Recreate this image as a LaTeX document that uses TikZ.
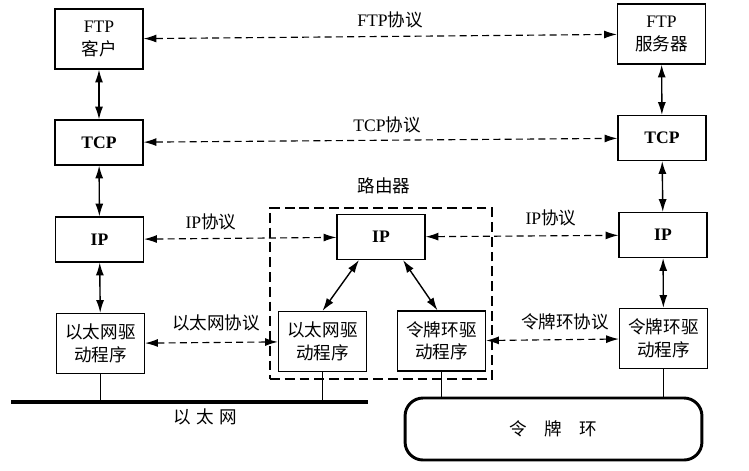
\documentclass[tikz,border=0pt]{standalone}
\usepackage{fontspec}
\setmainfont{Liberation Serif}
\newfontfamily\cjk{Noto Sans CJK SC}
\usetikzlibrary{arrows.meta}

\begin{document}
\begin{tikzpicture}[x=0.025cm, y=-0.025cm,
  >={Latex[length=0.32cm,width=0.2cm]},
  every node/.style={align=center, font=\fontsize{12.5}{16}\selectfont},
  layerbox/.style={draw, line width=0.9pt, minimum width=2.2cm, minimum height=1.5cm, inner sep=1pt},
  thinbox/.style={layerbox, minimum height=1.12cm, font=\fontsize{12.5}{16}\selectfont\bfseries},
  peer/.style={<->, line width=0.8pt, dash pattern=on 5pt off 3pt},
  stack/.style={<->, line width=1pt}]
  \useasboundingbox (0,0) rectangle (749,470);

  % Left host
  \node[layerbox] (ftpc) at (99,39) {FTP\\{\cjk 客户}};
  \node[thinbox] (tcpl) at (99,142.5) {TCP};
  \node[thinbox] (ipl) at (99.5,239.5) {IP};
  \node[layerbox] (ethl) at (100.5,343.5) {\cjk 以太网驱\\\cjk 动程序};

  % Right host
  \node[layerbox] (ftps) at (661.5,34) {FTP\\{\cjk 服务器}};
  \node[thinbox] (tcpr) at (662,138) {TCP};
  \node[thinbox] (ipr) at (663,235) {IP};
  \node[layerbox] (trr) at (663.5,338.5) {\cjk 令牌环驱\\\cjk 动程序};

  % Router
  \node[draw, line width=0.8pt, dash pattern=on 7pt off 3.5pt,
        minimum width=5.55cm, minimum height=4.275cm] (router) at (381,293.5) {};
  \node (routerlbl) at (384,186) {\cjk 路由器};
  \node[thinbox] (ipm) at (381,237) {IP};
  \node[layerbox] (ethm) at (322.5,341.5) {\cjk 以太网驱\\\cjk 动程序};
  \node[layerbox] (trm) at (441.5,341) {\cjk 令牌环驱\\\cjk 动程序};

  % Networks
  \coordinate (ethA) at (11,402);
  \coordinate (ethB) at (368,402);
  \draw[line width=2.6pt] (ethA) -- (ethB);
  \node (ethlbl) at (205,417) {\cjk 以\hspace{0.3em}太\hspace{0.3em}网};
  \node[draw, line width=2.1pt, rounded corners=0.45cm,
        minimum width=7.42cm, minimum height=1.55cm] (ring) at (553.5,429) {\cjk 令\quad 牌\quad 环};

  % Stack arrows
  \draw[stack] (ftpc) -- (tcpl);
  \draw[stack] (tcpl) -- (ipl);
  \draw[stack] (ipl) -- (ethl);
  \draw[stack] (ftps) -- (tcpr);
  \draw[stack] (tcpr) -- (ipr);
  \draw[stack] (ipr) -- (trr);
  \draw[stack] ([xshift=-0.55cm]ipm.south) -- (ethm.north);
  \draw[stack] ([xshift=0.55cm]ipm.south) -- ([xshift=-0.1cm]trm.north);

  % Attachments
  \draw[line width=0.8pt] (ethl) -- (ethl |- ethA);
  \draw[line width=0.8pt] (ethm) -- (ethm |- ethA);
  \draw[line width=0.8pt] (trm) -- (trm |- ring.north);
  \draw[line width=0.8pt] (trr) -- (trr |- ring.north);

  % Peer protocols
  \draw[peer] (ftpc) -- (ftps);
  \draw[peer] (tcpl) -- (tcpr);
  \draw[peer] (ipl) -- (ipm);
  \draw[peer] (ipm) -- (ipr);
  \draw[peer] (ethl) -- (ethm);
  \draw[peer] (trm) -- (trr);
  \node (ftplbl) at (390,20) {FTP{\cjk 协议}};
  \node (tcplbl) at (387,125) {TCP{\cjk 协议}};
  \node (iplbl) at (211,222) {IP{\cjk 协议}};
  \node (iplbr) at (551,218) {IP{\cjk 协议}};
  \node (ethplbl) at (216,323) {\cjk 以太网协议};
  \node (trplbl) at (565,322) {\cjk 令牌环协议};
\end{tikzpicture}
\end{document}
